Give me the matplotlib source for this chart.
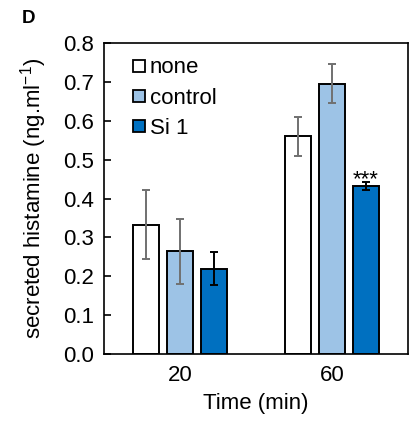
import matplotlib
matplotlib.use("Agg")
import matplotlib.pyplot as plt
from matplotlib.lines import Line2D
import numpy as np

plt.rcParams['font.family'] = ['Liberation Sans', 'DejaVu Sans']

times = ["20", "60"]
series = ["none", "control", "Si 1"]
means = {
    "none": [0.333, 0.560],
    "control": [0.264, 0.695],
    "Si 1": [0.220, 0.432],
}
errs = {
    "none": [0.088, 0.051],
    "control": [0.084, 0.050],
    "Si 1": [0.042, 0.011],
}
colors = {"none": "#FFFFFF", "control": "#9DC3E6", "Si 1": "#0070C0"}
ecolors = {"none": "#707070", "control": "#707070", "Si 1": "#000000"}
signif = {"Si 1": ["", "***"]}

FS = 16

fig = plt.figure(figsize=(4.16, 4.22), dpi=100)
ax = fig.add_axes([0.25, 0.161, 0.731, 0.737])

x = np.arange(len(times))
width = 0.171
offsets = [-0.224, 0.0, 0.224]
for s, off in zip(series, offsets):
    ax.bar(x + off, means[s], width, color=colors[s], edgecolor="black",
           linewidth=1.4, zorder=2)
    ax.errorbar(x + off, means[s], yerr=errs[s], fmt="none", ecolor=ecolors[s],
                elinewidth=1.4, capsize=3, capthick=1.4, zorder=3)

for s, off in zip(series, offsets):
    if s in signif:
        for i, lab in enumerate(signif[s]):
            if lab:
                ax.text(x[i] + off, means[s][i] + errs[s][i] - 0.022, lab,
                        ha="center", va="bottom", fontsize=16)

ax.set_xlim(-0.5, 1.5)
ax.set_ylim(0, 0.8)
yt = np.arange(0, 0.81, 0.1)
ax.set_yticks(yt)
ax.set_yticklabels([f"{v:.1f}" for v in yt])
ax.set_xticks(x)
ax.set_xticklabels(times)
ax.tick_params(axis="y", direction="in", length=5, width=1.2, labelsize=FS, pad=7)
ax.tick_params(axis="x", length=0, labelsize=FS, pad=8)
for sp in ax.spines.values():
    sp.set_linewidth(1.2)

ax.set_ylabel("secreted histamine (ng.ml$^{\\mathregular{-1}}$)", fontsize=FS, labelpad=10)
ax.set_xlabel("Time (min)", fontsize=FS, labelpad=5)

handles = [Line2D([], [], marker="s", linestyle="none", markersize=8.5,
                  markerfacecolor=colors[s], markeredgecolor="black", markeredgewidth=1.3)
           for s in series]
ax.legend(handles, series, loc="upper left", bbox_to_anchor=(0.067, 0.975), frameon=False,
          fontsize=FS, handlelength=0.7, handletextpad=0.15, labelspacing=0.41,
          borderaxespad=0.0, borderpad=0.3)

fig.text(0.053, 0.957, "D", fontsize=13.5, fontweight="bold", ha="left", va="center")

fig.savefig("out.png", dpi=100)
